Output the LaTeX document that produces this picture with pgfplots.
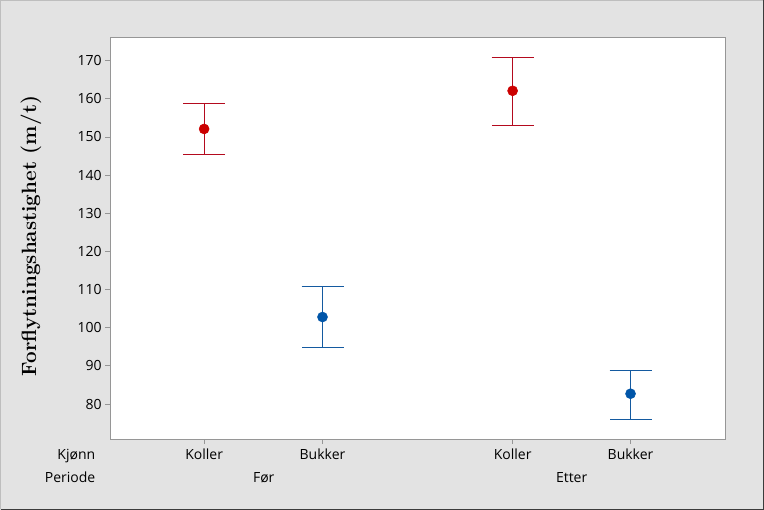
\documentclass[border=0pt]{standalone}
\usepackage{fontspec}
\setsansfont{Open Sans}
\usepackage{pgfplots}
\pgfplotsset{compat=1.18}
\definecolor{bg}{RGB}{227,227,227}
\definecolor{frame}{RGB}{150,150,150}
\definecolor{outerlight}{RGB}{190,190,190}
\definecolor{outerdark}{RGB}{60,60,60}
\definecolor{redline}{RGB}{180,10,30}
\definecolor{reddot}{RGB}{204,0,0}
\definecolor{blueline}{RGB}{20,90,160}
\definecolor{bluedot}{RGB}{0,85,168}
\begin{document}
\begin{tikzpicture}
\path[use as bounding box] (0,0) rectangle (573pt,382.5pt);
\fill[bg] (0,0) rectangle (573pt,382.5pt);
\draw[line width=0.75pt, outerlight] (0.4pt,0.4pt) -- (0.4pt,382.1pt) -- (572.6pt,382.1pt);
\draw[line width=1pt, outerdark] (0.5pt,0.5pt) -- (572.5pt,0.5pt) -- (572.5pt,382.5pt);
\begin{axis}[
  at={(82.5pt,53.25pt)}, anchor=south west,
  scale only axis, width=461.25pt, height=301.5pt,
  xmin=-0.795, xmax=4.40, ymin=70.83, ymax=176.2,
  axis background/.style={fill=white},
  axis line style={frame, line width=0.6pt},
  xtick={0,1,2.606,3.602},
  xticklabels={Koller,Bukker,Koller,Bukker},
  ytick={80,90,...,170},
  tick align=outside, major tick length=3.75pt,
  xtick pos=bottom, ytick pos=left,
  tick style={frame, line width=0.6pt},
  /pgf/number format/assume math mode=true,
  ticklabel style={font=\sffamily\fontsize{10.5}{12}\selectfont},
  yticklabel style={xshift=1pt},
  xticklabel style={anchor=base, yshift=-12pt},
  ylabel={Forflytningshastighet (m/t)},
  ylabel style={at={(axis description cs:-0.1203,0.505)}, anchor=base, font=\rmfamily\bfseries\fontsize{15.5}{18}\selectfont},
  clip=false,
]
\addplot[only marks, mark=*, mark size=3.75pt, color=reddot, mark options={fill=reddot, draw=reddot},
  error bars/.cd, y dir=both, y explicit,
  error bar style={redline, line width=0.75pt},
  error mark options={rotate=90, mark size=15.75pt, redline, line width=0.75pt}]
  coordinates {
  (0,152.1) -= (0,6.6) += (0,6.7)
  (2.606,162.1) -= (0,9.0) += (0,8.6)
  };
\addplot[only marks, mark=*, mark size=3.75pt, color=bluedot, mark options={fill=bluedot, draw=bluedot},
  error bars/.cd, y dir=both, y explicit,
  error bar style={blueline, line width=0.75pt},
  error mark options={rotate=90, mark size=15.75pt, blueline, line width=0.75pt}]
  coordinates {
  (1,102.8) -= (0,8.1) += (0,7.9)
  (3.602,82.7) -= (0,6.8) += (0,6.1)
  };
\node[anchor=base east, font=\sffamily\fontsize{10.5}{12}\selectfont, yshift=-15.75pt] at (axis description cs:-0.0163,0) {Kjønn};
\node[anchor=base east, font=\sffamily\fontsize{10.5}{12}\selectfont, yshift=-33pt] at (axis description cs:-0.0163,0) {Periode};
\node[anchor=base, font=\sffamily\fontsize{10.5}{12}\selectfont, yshift=-33pt] at (axis description cs:0.25,0) {Før};
\node[anchor=base, font=\sffamily\fontsize{10.5}{12}\selectfont, yshift=-33pt] at (axis description cs:0.7507,0) {Etter};
\end{axis}
\end{tikzpicture}
\end{document}
